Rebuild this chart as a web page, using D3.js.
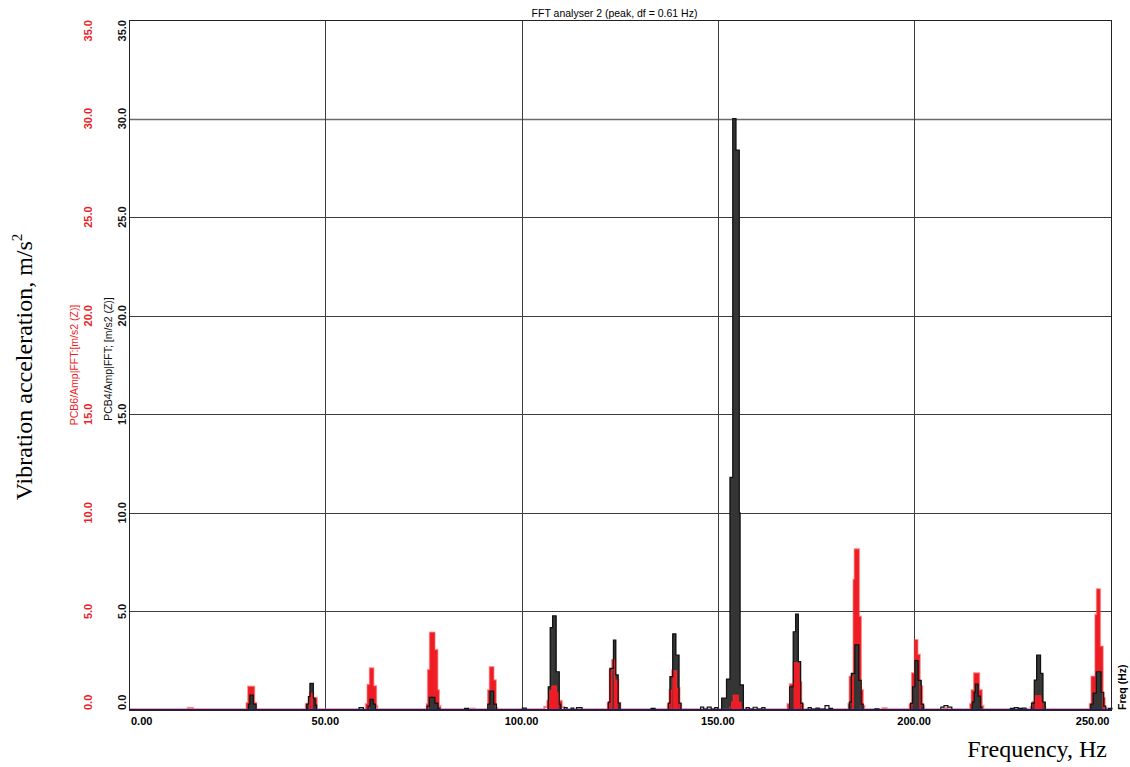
<!DOCTYPE html>
<html><head><meta charset="utf-8">
<script src="https://cdn.jsdelivr.net/npm/d3@7"></script>
<style>body{margin:0;background:#fff}svg{display:block}</style>
</head><body>
<svg id="c" width="1130" height="767"></svg>
<script>
const chartTitle = "FFT analyser 2 (peak, df = 0.61 Hz)";
const xTicks = [0, 50, 100, 150, 200, 250];
const xTickLabels = ["0.00", "50.00", "100.00", "150.00", "200.00", "250.00"];
const yTicks = [0, 5, 10, 15, 20, 25, 30, 35];
const yTickLabels = ["0.0", "5.0", "10.0", "15.0", "20.0", "25.0", "30.0", "35.0"];
const redAxisTitle = "PCB6/Amp|FFT:[m/s2 (Z)]";
const blackAxisTitle = "PCB4/Amp|FFT; [m/s2 (Z)]";

// step spectra: [frequency Hz where level starts, amplitude m/s2]
const redSteps = [
  [0,0.03],[15.0,0.1],[16.3,0.03],
  [29.98,0.35],[30.39,1.18],[31.84,0.35],[32.35,0.03],
  [45.1,0.3],[46.1,0.85],[46.9,0.6],[47.8,0.03],
  [60.4,0.3],[60.8,1.27],[61.4,2.11],[62.2,1.2],[62.9,0.2],[63.2,0.03],
  [75.9,0.3],[76.2,2.03],[76.7,3.92],[77.8,3.04],[78.5,1.0],[78.9,0.2],[79.3,0.03],
  [87.0,0.06],[88.0,0.03],
  [91.5,1.0],[91.95,2.17],[92.8,1.5],[93.4,0.1],[93.8,0.03],
  [105.8,0.15],[106.6,0.45],[107.2,1.0],[107.7,1.22],[108.9,0.9],[109.4,0.45],[110.2,0.15],[110.8,0.03],
  [122.0,0.35],[122.5,2.03],[123.1,2.54],[123.8,1.52],[124.6,0.35],[125.1,0.03],
  [137.3,0.3],[137.7,1.0],[138.4,2.0],[139.5,1.1],[140.2,0.3],[140.6,0.03],
  [153.0,0.15],[153.5,0.4],[153.9,0.76],[155.2,0.4],[155.9,0.12],[156.4,0.03],
  [167.8,0.3],[168.4,1.3],[169.3,2.4],[170.7,1.4],[171.2,0.3],[171.7,0.03],
  [183.3,0.3],[183.6,1.69],[184.6,6.6],[184.9,8.15],[185.9,4.73],[186.4,1.0],[186.9,0.2],[187.3,0.03],
  [192.0,0.08],[193.0,0.03],
  [198.9,0.3],[199.5,1.86],[200.2,3.55],[200.8,2.8],[201.4,1.2],[202.0,0.2],[202.5,0.03],
  [207.5,0.1],[208.5,0.03],
  [214.3,0.3],[214.7,1.0],[215.3,1.86],[216.5,1.0],[217.2,0.2],[217.6,0.03],
  [229.7,0.15],[230.2,0.4],[230.8,0.73],[232.3,0.4],[232.9,0.12],[233.4,0.03],
  [244.8,0.3],[245.2,1.69],[246.2,4.82],[246.6,6.12],[247.3,3.21],[248.0,0.6],[248.5,0.1],[249.0,0.03],
  [250.4,0.03]
];
const blackSteps = [
  [0,0.02],
  [30.44,0.3],[30.82,0.76],[31.66,0.3],[32.35,0.02],
  [45.26,0.3],[45.7,0.68],[46.1,1.35],[46.95,0.6],[47.4,0.25],[47.8,0.02],
  [58.6,0.12],[59.7,0.02],
  [60.9,0.2],[61.4,0.54],[62.2,0.3],[62.8,0.02],
  [75.9,0.2],[76.5,0.64],[77.9,0.35],[78.7,0.1],[79.2,0.02],
  [85.5,0.08],[86.5,0.02],
  [91.4,0.3],[91.95,0.96],[92.9,0.3],[93.6,0.02],
  [100.2,0.1],[101.2,0.02],
  [106.8,1.18],[107.3,4.18],[107.9,4.77],[108.8,1.94],[109.6,0.3],[110.0,0.02],
  [110.9,0.12],[111.6,0.02],[112.6,0.1],[113.3,0.02],[114.0,0.12],[115.4,0.02],
  [122.1,0.4],[122.5,2.11],[123.4,3.55],[124.0,1.78],[124.6,0.35],[125.1,0.02],
  [133.0,0.08],[134.0,0.02],
  [137.4,0.35],[137.8,1.69],[138.5,3.86],[139.3,2.79],[140.1,0.35],[140.6,0.02],
  [145.6,0.15],[146.4,0.05],[147.3,0.15],[148.3,0.05],[149.2,0.12],[150.0,0.02],
  [150.97,0.6],[152.2,1.57],[153.1,11.8],[153.8,30.0],[154.6,28.4],[155.45,10.0],[155.65,1.27],[156.5,0.02],
  [157.2,0.12],[158.0,0.05],[159.0,0.14],[160.0,0.05],[161.2,0.12],[162.0,0.02],
  [168.3,1.18],[169.2,3.97],[169.8,4.87],[170.5,2.45],[171.1,0.35],[171.6,0.02],
  [173.0,0.12],[173.8,0.04],[175.0,0.1],[175.8,0.04],[177.3,0.22],[178.3,0.08],[179.2,0.02],
  [183.5,0.4],[184.0,1.86],[184.9,3.3],[185.9,1.5],[186.5,0.3],[187.0,0.02],
  [190.0,0.06],[191.0,0.02],
  [199.1,0.35],[199.6,1.18],[200.2,2.5],[201.0,1.5],[201.8,0.3],[202.4,0.02],
  [206.8,0.15],[207.6,0.22],[208.6,0.15],[209.6,0.02],
  [214.8,0.4],[215.3,0.9],[215.6,1.32],[216.3,0.7],[216.9,0.15],[217.3,0.02],
  [224.5,0.08],[225.5,0.12],[226.5,0.08],[227.5,0.1],[228.5,0.02],
  [229.9,0.35],[230.6,1.52],[231.2,2.79],[232.2,1.86],[232.8,0.4],[233.4,0.02],
  [245.0,0.3],[245.6,0.86],[246.4,1.94],[247.6,0.9],[248.3,0.2],[248.8,0.02],
  [249.5,0.08],[250.4,0.02]
];

const svg = d3.select("#c");
const L = 129, R = 1112, T = 20, B = 710;
const x = d3.scaleLinear().domain([0, 250.4]).range([L, R]);
const y = d3.scaleLinear().domain([0, 35]).range([B, T]);
const sans = "'Liberation Sans', Arial, sans-serif";
const serif = "'Liberation Serif', 'Times New Roman', serif";

// grid
const g = svg.append("g");
g.selectAll("line.h").data(yTicks.filter(v => v > 0 && v < 35)).join("line")
  .attr("x1", L).attr("x2", R).attr("y1", d => Math.round(y(d)) + 0.5).attr("y2", d => Math.round(y(d)) + 0.5)
  .attr("stroke", d => d === 30 ? "#6a6a6a" : "#3c3c3c").attr("stroke-width", d => d === 30 ? 1.4 : 1);
g.selectAll("line.v").data(xTicks.filter(v => v > 0 && v < 250)).join("line")
  .attr("y1", T).attr("y2", B).attr("x1", d => Math.round(x(d)) + 0.5).attr("x2", d => Math.round(x(d)) + 0.5)
  .attr("stroke", "#3c3c3c").attr("stroke-width", 1);

// bars from step data, taller behind, shorter in front (low noise left as outline only)
function toRects(steps, s) {
  const out = [];
  for (let i = 0; i < steps.length - 1; i++) out.push({f0: steps[i][0], f1: steps[i+1][0], a: steps[i][1], s});
  return out;
}
const rects = toRects(redSteps, "r").concat(toRects(blackSteps, "b"))
  .filter(d => d.a >= 0.25).sort((p, q) => q.a - p.a);

const stepLine = d3.line().x(d => x(d[0])).y(d => y(d[1])).curve(d3.curveStepAfter);
// soft red halo
svg.append("path").attr("d", stepLine(redSteps)).attr("fill", "none")
  .attr("stroke", "#ff5a5a").attr("stroke-width", 2.6).attr("stroke-opacity", 0.45);

svg.append("g").selectAll("rect").data(rects).join("rect")
  .attr("x", d => x(d.f0) - 0.3).attr("width", d => Math.max(0.5, x(d.f1) - x(d.f0)) + 0.6)
  .attr("y", d => y(d.a)).attr("height", d => B - y(d.a))
  .attr("fill", d => d.s === "r" ? "#ee1c25" : "#353535");

svg.append("path").attr("d", stepLine(redSteps)).attr("fill", "none")
  .attr("stroke", "#f03030").attr("stroke-width", 1.2).attr("stroke-opacity", 0.6);
svg.append("path").attr("d", stepLine(blackSteps)).attr("fill", "none")
  .attr("stroke", "#111").attr("stroke-width", 1.2);

// baseline
svg.append("line").attr("x1", L).attr("x2", R).attr("y1", y(0) - 0.5).attr("y2", y(0) - 0.5)
  .attr("stroke", "#1a1a70").attr("stroke-width", 1.2);

// frame
svg.append("rect").attr("x", L + 0.5).attr("y", T + 0.5).attr("width", R - L - 1).attr("height", B - T)
  .attr("fill", "none").attr("stroke", "#222").attr("stroke-width", 1);

// title
svg.append("text").attr("x", 614.5).attr("y", 17).attr("text-anchor", "middle")
  .attr("font-family", sans).attr("font-size", 10.5).text(chartTitle);

// x tick labels
svg.append("g").selectAll("text").data(xTicks).join("text")
  .attr("x", d => x(d)).attr("y", 725)
  .attr("text-anchor", (d, i) => i === 0 ? "start" : (i === xTicks.length - 1 ? "end" : "middle"))
  .attr("dx", (d, i) => i === 0 ? 2 : (i === xTicks.length - 1 ? -1 : 0))
  .attr("font-family", sans).attr("font-size", 11).attr("font-weight", "bold")
  .text((d, i) => xTickLabels[i]);

// y tick labels (black inner, red outer), rotated
function yLabels(xb, color) {
  svg.append("g").selectAll("text").data(yTicks).join("text")
    .attr("transform", d => `translate(${xb},${y(d)}) rotate(-90)`)
    .attr("text-anchor", (d, i) => i === 0 ? "start" : (i === yTicks.length - 1 ? "end" : "middle"))
    .attr("font-family", sans).attr("font-size", 11).attr("font-weight", "bold")
    .attr("fill", color).text((d, i) => yTickLabels[i]);
}
yLabels(126, "#111");
yLabels(92, "#ee1c25");

// axis titles
svg.append("text").attr("transform", "translate(78,365) rotate(-90)").attr("text-anchor", "middle")
  .attr("font-family", sans).attr("font-size", 10.5).attr("fill", "#ee1c25").text(redAxisTitle);
svg.append("text").attr("transform", "translate(112,359) rotate(-90)").attr("text-anchor", "middle")
  .attr("font-family", sans).attr("font-size", 10.5).attr("fill", "#111").text(blackAxisTitle);
svg.append("text").attr("transform", "translate(1126,710) rotate(-90)").attr("text-anchor", "start")
  .attr("font-family", sans).attr("font-size", 10.5).attr("font-weight", "bold").text("Freq (Hz)");

const yl = svg.append("text").attr("transform", "translate(32,367) rotate(-90)").attr("text-anchor", "middle")
  .attr("font-family", serif).attr("font-size", 24).attr("fill", "#000");
yl.append("tspan").text("Vibration acceleration, m/s");
yl.append("tspan").attr("font-size", 15).attr("dy", -10).text("2");

svg.append("text").attr("x", 1107).attr("y", 757).attr("text-anchor", "end")
  .attr("font-family", serif).attr("font-size", 24).attr("fill", "#000").text("Frequency, Hz");
</script>
</body></html>
